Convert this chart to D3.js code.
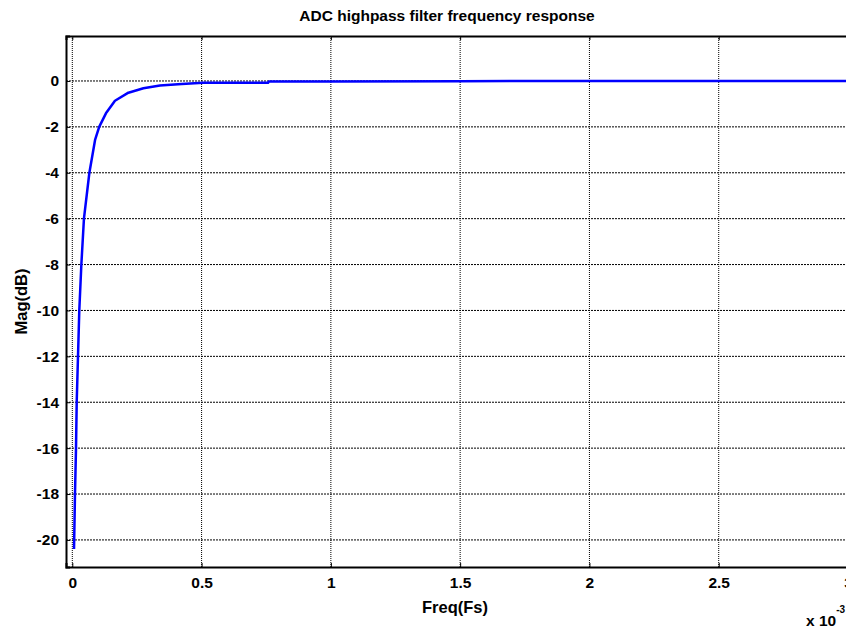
<!DOCTYPE html>
<html>
<head>
<meta charset="utf-8">
<script src="https://cdn.jsdelivr.net/npm/d3@7"></script>
<style>
  body { margin: 0; background: #fff; }
  text { font-family: "Liberation Sans", Arial, sans-serif; font-weight: bold; }
</style>
</head>
<body>
<div class="container"></div>
<script>
// frequency in units of 1e-3 Fs, magnitude in dB
const freq = [0.0066, 0.0104, 0.0143, 0.017, 0.022, 0.027, 0.035, 0.045, 0.066, 0.088,
  0.104, 0.130, 0.165, 0.217, 0.275, 0.339, 0.423, 0.506, 0.757, 0.76, 1.0, 1.5, 2.0, 2.5, 3.0];
const mag = [-20.4, -18, -16, -14, -12, -10, -8, -6, -4, -2.57,
  -2, -1.41, -0.86, -0.51, -0.32, -0.2, -0.13, -0.08, -0.08, -0.02, -0.02, -0.01, 0, 0, 0];
const xTicks = [0, 0.5, 1, 1.5, 2, 2.5, 3];
const yTicks = d3.range(-20, 1, 2);

const width = 846;
const height = 628;
const margin = { left: 66, right: -2, top: 36, bottom: 61 };
const innerWidth = width - margin.left - margin.right;
const innerHeight = height - margin.top - margin.bottom;

const x = d3.scaleLinear().domain([-0.0244, 3]).range([0, innerWidth]);
const y = d3.scaleLinear().domain([-21.18, 1.96]).range([innerHeight, 0]);

const svg = d3.select(".container")
  .append("svg")
  .attr("width", width)
  .attr("height", height);

const g = svg.append("g")
  .attr("transform", `translate(${margin.left},${margin.top})`);

//grid
g.append("g")
  .selectAll("line")
  .data(xTicks)
  .join("line")
  .attr("x1", (d) => x(d))
  .attr("x2", (d) => x(d))
  .attr("y1", 0)
  .attr("y2", innerHeight)
  .attr("stroke", "#000")
  .attr("stroke-width", 1)
  .attr("stroke-dasharray", "1,1");

g.append("g")
  .selectAll("line")
  .data(yTicks)
  .join("line")
  .attr("x1", 0)
  .attr("x2", innerWidth)
  .attr("y1", (d) => y(d))
  .attr("y2", (d) => y(d))
  .attr("stroke", "#000")
  .attr("stroke-width", 1)
  .attr("stroke-dasharray", "2,1");

//axes
const fmt = (d) => String(d);
const xAxis = g.append("g")
  .attr("transform", `translate(0,${innerHeight})`)
  .call(d3.axisBottom(x).tickValues(xTicks).tickFormat(fmt).tickSize(-4).tickPadding(10));
const xTop = g.append("g")
  .call(d3.axisTop(x).tickValues(xTicks).tickSize(-4));
xTop.selectAll("text").remove();
const yAxis = g.append("g")
  .call(d3.axisLeft(y).tickValues(yTicks).tickFormat(fmt).tickSize(-4).tickPadding(7));

[xAxis, xTop, yAxis].forEach((a) => {
  a.select(".domain").attr("stroke", "#000").attr("stroke-width", 2);
  a.selectAll(".tick line").attr("stroke", "#000").attr("stroke-width", 1);
  a.selectAll("text")
    .attr("fill", "#000")
    .attr("font-size", 15.5)
    .attr("font-weight", "bold")
    .attr("font-family", "Liberation Sans, Arial, sans-serif");
});

//line
g.append("path")
  .datum(freq.map((f, i) => [f, mag[i]]))
  .attr("fill", "none")
  .attr("stroke", "#0000ff")
  .attr("stroke-width", 2.5)
  .attr("stroke-linejoin", "round")
  .attr("d", d3.line().x((d) => x(d[0])).y((d) => y(d[1])));

//labels
svg.append("text")
  .attr("x", 447)
  .attr("y", 21)
  .attr("text-anchor", "middle")
  .attr("font-size", 15.5)
  .text("ADC highpass filter frequency response");

svg.append("text")
  .attr("x", margin.left + innerWidth / 2 - 2)
  .attr("y", 613)
  .attr("text-anchor", "middle")
  .attr("font-size", 16.5)
  .text("Freq(Fs)");

svg.append("text")
  .attr("transform", `translate(27,${margin.top + innerHeight / 2}) rotate(-90)`)
  .attr("text-anchor", "middle")
  .attr("font-size", 16.5)
  .text("Mag(dB)");

const mult = svg.append("text")
  .attr("x", 806)
  .attr("y", 626)
  .attr("font-size", 15.5);
mult.append("tspan").text("x 10");
mult.append("tspan").attr("dy", -13).attr("font-size", 10).text("-3");
</script>
</body>
</html>
